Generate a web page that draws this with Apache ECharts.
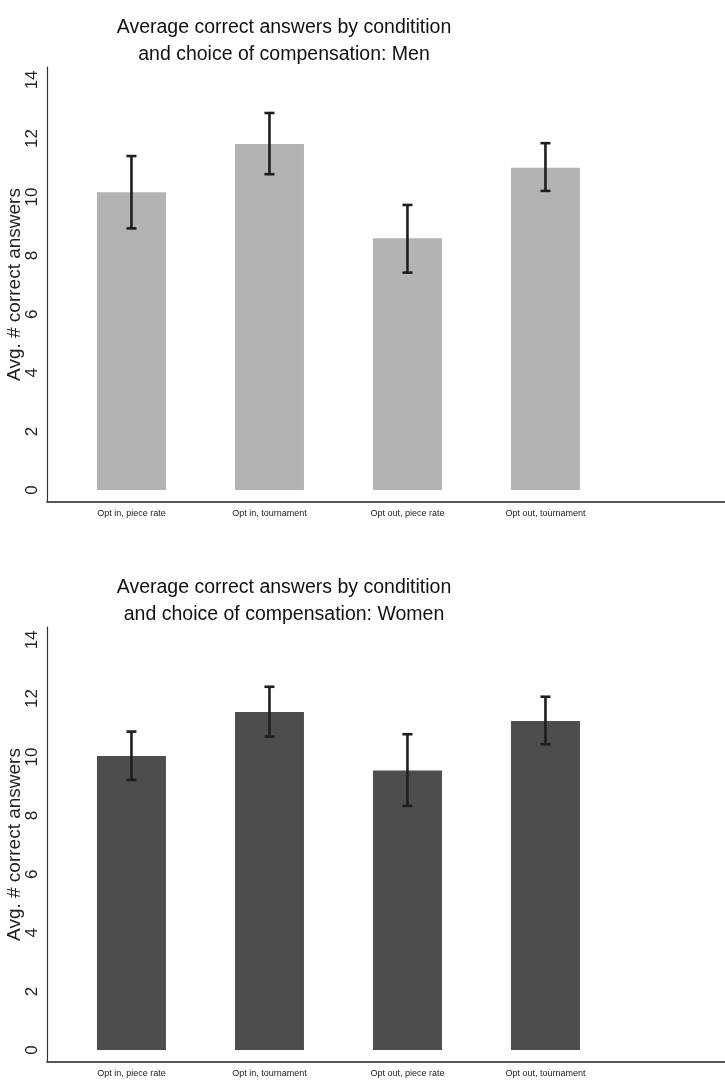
<!DOCTYPE html>
<html>
<head>
<meta charset="utf-8">
<script src="https://cdn.jsdelivr.net/npm/echarts@6/dist/echarts.min.js"></script>
<style>html,body{margin:0;padding:0;background:#fff;}#c{width:725px;height:1087px;}</style>
</head>
<body>
<div id="c"></div>
<script>
var categories = ['Opt in, piece rate', 'Opt in, tournament', 'Opt out, piece rate', 'Opt out, tournament'];
var yTicks = [0, 2, 4, 6, 8, 10, 12, 14];
var menMeans = [10.16, 11.81, 8.59, 11.00];
var menLow = [8.93, 10.78, 7.42, 10.21];
var menHigh = [11.40, 12.87, 9.73, 11.84];
var womenMeans = [10.04, 11.54, 9.54, 11.23];
var womenLow = [9.22, 10.70, 8.33, 10.44];
var womenHigh = [10.87, 12.40, 10.78, 12.06];

var FONT = 'Liberation Sans, Arial, Helvetica, sans-serif';
var positions = categories.map(function (c, i) { return i + 1; });

function barData(vals) { return vals.map(function (v, i) { return [positions[i], v]; }); }
function errData(lo, hi) { return lo.map(function (v, i) { return [positions[i], v, hi[i]]; }); }

function errRender(params, api) {
  var x = api.value(0);
  var p1 = api.coord([x, api.value(1)]);
  var p2 = api.coord([x, api.value(2)]);
  var hw = 5;
  var st = { stroke: '#1e1e1e', lineWidth: 2.6 };
  return {
    type: 'group',
    children: [
      { type: 'line', shape: { x1: p1[0], y1: p1[1], x2: p2[0], y2: p2[1] }, style: st },
      { type: 'line', shape: { x1: p1[0] - hw, y1: p1[1], x2: p1[0] + hw, y2: p1[1] }, style: st },
      { type: 'line', shape: { x1: p2[0] - hw, y1: p2[1], x2: p2[0] + hw, y2: p2[1] }, style: st }
    ]
  };
}

function xAxisCfg(idx) {
  return {
    type: 'value', gridIndex: idx, min: 0.388, max: 5.301,
    splitLine: { show: false },
    axisTick: { show: false },
    axisLine: { show: true, onZero: false, lineStyle: { color: '#555', width: 2 } },
    axisLabel: {
      customValues: positions, margin: 7, fontSize: 9, color: '#222', fontFamily: FONT,
      formatter: function (v) { return categories[Math.round(v) - 1] || ''; }
    }
  };
}
function yAxisCfg(idx) {
  return {
    type: 'value', gridIndex: idx, min: -0.41, max: 14.44,
    name: 'Avg. # correct answers', nameLocation: 'middle', nameRotate: 90, nameGap: 23,
    nameMoveOverlap: false,
    nameTextStyle: { fontSize: 19, color: '#222', fontFamily: FONT },
    splitLine: { show: false },
    axisTick: { show: false },
    axisLine: { show: true, onZero: false, lineStyle: { color: '#333', width: 1.2 } },
    axisLabel: {
      customValues: yTicks, rotate: 90, margin: 6, fontSize: 17, color: '#222', fontFamily: FONT,
      formatter: function (v) { return String(v); }
    }
  };
}

var chart = echarts.init(document.getElementById('c'), null, { renderer: 'canvas' });
chart.setOption({
  animation: false,
  backgroundColor: '#fff',
  title: [
    { text: 'Average correct answers by conditition\nand choice of compensation: Men', left: 279, top: 9, textAlign: 'center',
      textStyle: { fontSize: 19.5, fontWeight: 'normal', color: '#111', lineHeight: 27, fontFamily: FONT } },
    { text: 'Average correct answers by conditition\nand choice of compensation: Women', left: 279, top: 569, textAlign: 'center',
      textStyle: { fontSize: 19.5, fontWeight: 'normal', color: '#111', lineHeight: 27, fontFamily: FONT } }
  ],
  grid: [
    { left: 47, right: 0, top: 67, height: 435, containLabel: false, outerBoundsMode: 'none' },
    { left: 47, right: 0, top: 627, height: 435, containLabel: false, outerBoundsMode: 'none' }
  ],
  xAxis: [xAxisCfg(0), xAxisCfg(1)],
  yAxis: [yAxisCfg(0), yAxisCfg(1)],
  series: [
    { type: 'bar', xAxisIndex: 0, yAxisIndex: 0, data: barData(menMeans), barWidth: 69,
      itemStyle: { color: '#b3b3b3' } },
    { type: 'custom', xAxisIndex: 0, yAxisIndex: 0, data: errData(menLow, menHigh), renderItem: errRender, z: 5 },
    { type: 'bar', xAxisIndex: 1, yAxisIndex: 1, data: barData(womenMeans), barWidth: 69,
      itemStyle: { color: '#4d4d4d' } },
    { type: 'custom', xAxisIndex: 1, yAxisIndex: 1, data: errData(womenLow, womenHigh), renderItem: errRender, z: 5 }
  ]
});
</script>
</body>
</html>
